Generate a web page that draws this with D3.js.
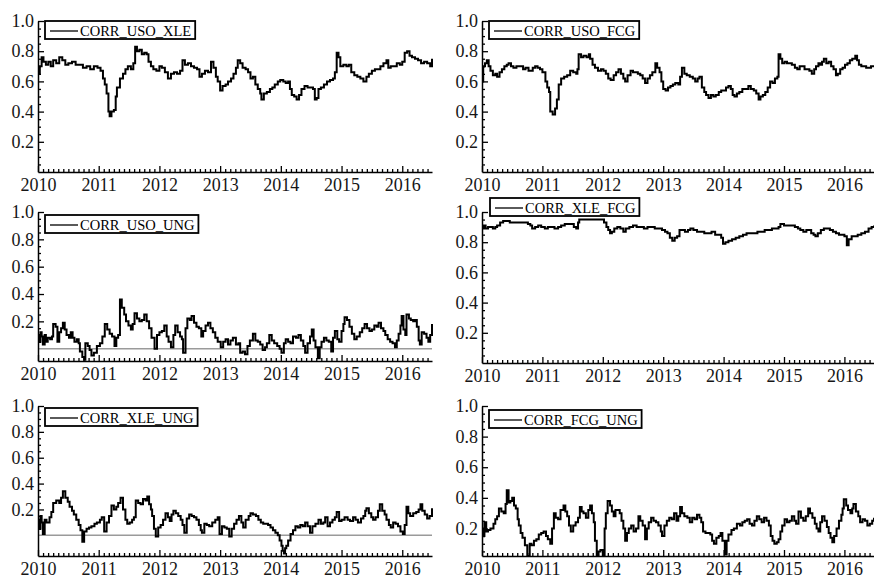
<!DOCTYPE html>
<html>
<head>
<meta charset="utf-8">
<script src="https://cdn.jsdelivr.net/npm/d3@7"></script>
<style>
  html, body { margin: 0; padding: 0; background: #fff; }
  svg { display: block; }
</style>
</head>
<body>
<svg id="chart" width="874" height="578"></svg>
<script>
// Rolling correlations, [decimal year, correlation]
const corrUsoXle = [
[2010.00,0.65],[2010.03,0.70],[2010.06,0.76],[2010.09,0.73],[2010.13,0.71],[2010.17,0.73],[2010.21,0.70],[2010.25,0.74],[2010.30,0.72],[2010.35,0.76],[2010.40,0.74],[2010.45,0.71],[2010.50,0.72],[2010.56,0.73],[2010.62,0.71],[2010.68,0.71],[2010.74,0.69],[2010.80,0.70],[2010.86,0.68],[2010.92,0.70],[2010.98,0.69],[2011.03,0.67],[2011.07,0.62],[2011.10,0.58],[2011.13,0.52],[2011.16,0.40],[2011.18,0.37],[2011.21,0.40],[2011.25,0.41],[2011.28,0.50],[2011.30,0.56],[2011.35,0.62],[2011.40,0.65],[2011.44,0.68],[2011.48,0.70],[2011.53,0.68],[2011.57,0.72],[2011.60,0.83],[2011.63,0.80],[2011.67,0.81],[2011.71,0.78],[2011.75,0.79],[2011.79,0.78],[2011.82,0.73],[2011.86,0.70],[2011.90,0.68],[2011.95,0.67],[2012.00,0.70],[2012.04,0.69],[2012.09,0.66],[2012.14,0.62],[2012.19,0.65],[2012.24,0.66],[2012.29,0.65],[2012.34,0.67],[2012.38,0.74],[2012.42,0.71],[2012.47,0.72],[2012.52,0.70],[2012.57,0.69],[2012.62,0.68],[2012.66,0.63],[2012.70,0.65],[2012.75,0.67],[2012.80,0.66],[2012.85,0.73],[2012.89,0.69],[2012.93,0.63],[2012.96,0.60],[2013.00,0.54],[2013.04,0.57],[2013.09,0.58],[2013.13,0.60],[2013.18,0.62],[2013.22,0.65],[2013.26,0.69],[2013.29,0.74],[2013.33,0.72],[2013.37,0.69],[2013.42,0.68],[2013.46,0.66],[2013.50,0.62],[2013.54,0.63],[2013.58,0.58],[2013.62,0.55],[2013.66,0.52],[2013.68,0.48],[2013.72,0.52],[2013.77,0.53],[2013.82,0.55],[2013.86,0.56],[2013.90,0.58],[2013.95,0.60],[2013.99,0.61],[2014.04,0.60],[2014.08,0.59],[2014.12,0.60],[2014.15,0.55],[2014.18,0.51],[2014.22,0.50],[2014.26,0.48],[2014.30,0.51],[2014.34,0.55],[2014.39,0.57],[2014.44,0.56],[2014.49,0.56],[2014.53,0.55],[2014.56,0.48],[2014.59,0.49],[2014.62,0.55],[2014.66,0.56],[2014.71,0.58],[2014.76,0.60],[2014.81,0.61],[2014.86,0.62],[2014.89,0.66],[2014.92,0.79],[2014.95,0.76],[2014.98,0.70],[2015.03,0.71],[2015.08,0.70],[2015.12,0.71],[2015.16,0.66],[2015.21,0.64],[2015.26,0.63],[2015.31,0.62],[2015.36,0.60],[2015.41,0.63],[2015.45,0.65],[2015.50,0.67],[2015.55,0.68],[2015.60,0.68],[2015.64,0.70],[2015.69,0.72],[2015.74,0.74],[2015.77,0.69],[2015.81,0.70],[2015.86,0.70],[2015.91,0.72],[2015.96,0.71],[2016.00,0.73],[2016.04,0.79],[2016.08,0.80],[2016.12,0.77],[2016.16,0.76],[2016.21,0.75],[2016.26,0.74],[2016.31,0.72],[2016.36,0.73],[2016.41,0.72],[2016.46,0.70],[2016.49,0.75]
];

const corrUsoFcg = [
[2010.00,0.60],[2010.02,0.70],[2010.05,0.72],[2010.08,0.74],[2010.11,0.70],[2010.14,0.67],[2010.18,0.64],[2010.22,0.65],[2010.25,0.63],[2010.29,0.66],[2010.33,0.68],[2010.37,0.70],[2010.41,0.71],[2010.44,0.72],[2010.48,0.70],[2010.52,0.69],[2010.57,0.70],[2010.63,0.70],[2010.68,0.68],[2010.72,0.69],[2010.77,0.67],[2010.80,0.67],[2010.84,0.69],[2010.88,0.70],[2010.92,0.69],[2010.96,0.68],[2011.00,0.66],[2011.05,0.60],[2011.08,0.56],[2011.11,0.53],[2011.13,0.40],[2011.17,0.38],[2011.21,0.42],[2011.24,0.48],[2011.27,0.58],[2011.31,0.62],[2011.36,0.63],[2011.41,0.64],[2011.46,0.67],[2011.51,0.66],[2011.56,0.65],[2011.58,0.68],[2011.60,0.78],[2011.64,0.76],[2011.68,0.77],[2011.73,0.76],[2011.77,0.78],[2011.79,0.75],[2011.83,0.71],[2011.87,0.69],[2011.92,0.67],[2011.97,0.68],[2012.01,0.67],[2012.05,0.65],[2012.09,0.62],[2012.13,0.61],[2012.18,0.64],[2012.22,0.66],[2012.26,0.68],[2012.30,0.65],[2012.34,0.62],[2012.37,0.60],[2012.41,0.64],[2012.46,0.67],[2012.50,0.66],[2012.54,0.66],[2012.58,0.65],[2012.62,0.64],[2012.66,0.62],[2012.70,0.59],[2012.74,0.62],[2012.78,0.64],[2012.82,0.66],[2012.87,0.72],[2012.90,0.69],[2012.94,0.66],[2012.97,0.60],[2013.00,0.55],[2013.04,0.54],[2013.08,0.56],[2013.12,0.57],[2013.16,0.58],[2013.20,0.59],[2013.25,0.58],[2013.28,0.63],[2013.31,0.69],[2013.35,0.65],[2013.39,0.64],[2013.44,0.63],[2013.49,0.62],[2013.53,0.60],[2013.57,0.62],[2013.60,0.63],[2013.64,0.56],[2013.68,0.53],[2013.71,0.51],[2013.75,0.49],[2013.79,0.51],[2013.83,0.50],[2013.87,0.51],[2013.92,0.53],[2013.96,0.54],[2014.00,0.54],[2014.04,0.56],[2014.08,0.57],[2014.12,0.55],[2014.15,0.51],[2014.18,0.50],[2014.22,0.52],[2014.26,0.53],[2014.31,0.55],[2014.36,0.55],[2014.41,0.57],[2014.45,0.55],[2014.50,0.54],[2014.54,0.52],[2014.58,0.48],[2014.61,0.50],[2014.65,0.51],[2014.69,0.53],[2014.73,0.56],[2014.77,0.60],[2014.81,0.59],[2014.85,0.62],[2014.89,0.63],[2014.91,0.78],[2014.94,0.75],[2014.97,0.72],[2015.01,0.73],[2015.05,0.72],[2015.09,0.72],[2015.13,0.71],[2015.18,0.69],[2015.22,0.68],[2015.26,0.70],[2015.30,0.70],[2015.34,0.68],[2015.38,0.68],[2015.42,0.67],[2015.46,0.65],[2015.50,0.68],[2015.53,0.70],[2015.57,0.72],[2015.60,0.71],[2015.63,0.73],[2015.66,0.75],[2015.70,0.72],[2015.74,0.73],[2015.78,0.70],[2015.82,0.68],[2015.86,0.64],[2015.89,0.65],[2015.93,0.68],[2015.97,0.69],[2016.01,0.71],[2016.05,0.72],[2016.09,0.74],[2016.13,0.75],[2016.18,0.77],[2016.21,0.74],[2016.24,0.71],[2016.28,0.70],[2016.32,0.70],[2016.36,0.69],[2016.40,0.69],[2016.44,0.70],[2016.49,0.70]
];

const corrUsoUng = [
[2010.00,0.10],[2010.02,0.05],[2010.04,0.12],[2010.06,0.09],[2010.08,0.03],[2010.11,0.10],[2010.13,0.05],[2010.16,0.08],[2010.20,0.07],[2010.23,0.09],[2010.25,0.18],[2010.29,0.16],[2010.32,0.05],[2010.35,0.12],[2010.38,0.15],[2010.41,0.19],[2010.44,0.14],[2010.47,0.10],[2010.51,0.08],[2010.54,0.12],[2010.57,0.08],[2010.60,0.05],[2010.64,0.07],[2010.67,0.04],[2010.69,-0.02],[2010.73,-0.06],[2010.76,-0.08],[2010.78,0.04],[2010.82,0.02],[2010.85,-0.01],[2010.88,-0.05],[2010.92,-0.03],[2010.97,0.02],[2011.02,0.04],[2011.06,0.09],[2011.10,0.18],[2011.14,0.14],[2011.18,0.11],[2011.22,0.09],[2011.26,0.02],[2011.29,0.08],[2011.32,0.10],[2011.35,0.36],[2011.38,0.30],[2011.42,0.25],[2011.45,0.20],[2011.49,0.17],[2011.53,0.14],[2011.56,0.18],[2011.59,0.26],[2011.63,0.22],[2011.67,0.20],[2011.71,0.21],[2011.75,0.25],[2011.79,0.20],[2011.83,0.15],[2011.87,0.08],[2011.92,0.00],[2011.96,0.10],[2012.00,0.12],[2012.04,0.13],[2012.08,0.17],[2012.12,0.09],[2012.15,0.05],[2012.19,0.01],[2012.23,0.10],[2012.26,0.17],[2012.30,0.12],[2012.34,0.09],[2012.37,0.07],[2012.39,-0.03],[2012.43,0.15],[2012.46,0.22],[2012.50,0.21],[2012.53,0.24],[2012.57,0.19],[2012.61,0.16],[2012.65,0.15],[2012.69,0.09],[2012.72,0.13],[2012.76,0.17],[2012.80,0.19],[2012.84,0.15],[2012.88,0.12],[2012.92,0.08],[2012.96,0.05],[2013.01,0.01],[2013.05,0.05],[2013.09,0.07],[2013.13,0.03],[2013.17,0.06],[2013.21,0.08],[2013.26,0.03],[2013.30,0.04],[2013.33,-0.03],[2013.37,-0.02],[2013.41,-0.04],[2013.45,0.02],[2013.49,0.06],[2013.54,0.11],[2013.58,0.06],[2013.62,0.05],[2013.66,0.03],[2013.70,-0.01],[2013.74,0.01],[2013.77,0.04],[2013.81,0.10],[2013.85,0.06],[2013.89,0.04],[2013.94,0.02],[2013.98,0.00],[2014.01,-0.03],[2014.05,0.04],[2014.08,0.07],[2014.12,0.05],[2014.16,0.04],[2014.20,0.09],[2014.25,0.08],[2014.29,0.10],[2014.33,0.06],[2014.37,0.02],[2014.40,-0.03],[2014.44,0.04],[2014.48,0.09],[2014.51,0.14],[2014.54,0.06],[2014.57,0.01],[2014.61,-0.07],[2014.64,0.01],[2014.67,0.05],[2014.71,0.08],[2014.75,0.06],[2014.79,0.05],[2014.83,-0.02],[2014.86,0.08],[2014.89,0.13],[2014.93,0.07],[2014.96,0.05],[2015.00,0.13],[2015.03,0.18],[2015.05,0.23],[2015.09,0.21],[2015.13,0.16],[2015.17,0.11],[2015.21,0.07],[2015.25,0.09],[2015.30,0.12],[2015.34,0.15],[2015.38,0.18],[2015.42,0.15],[2015.46,0.13],[2015.50,0.14],[2015.54,0.17],[2015.58,0.16],[2015.61,0.19],[2015.65,0.15],[2015.69,0.13],[2015.72,0.10],[2015.76,0.07],[2015.80,0.05],[2015.84,0.04],[2015.88,0.01],[2015.91,0.06],[2015.94,0.11],[2015.97,0.17],[2015.99,0.24],[2016.02,0.14],[2016.05,0.10],[2016.07,0.25],[2016.11,0.22],[2016.14,0.21],[2016.18,0.20],[2016.21,0.21],[2016.24,0.16],[2016.27,0.06],[2016.29,0.03],[2016.32,0.12],[2016.36,0.11],[2016.40,0.08],[2016.43,0.05],[2016.46,0.10],[2016.49,0.18]
];

const corrXleFcg = [
[2010.00,0.89],[2010.03,0.91],[2010.06,0.89],[2010.10,0.90],[2010.14,0.90],[2010.18,0.89],[2010.22,0.90],[2010.25,0.91],[2010.30,0.93],[2010.35,0.94],[2010.40,0.94],[2010.46,0.93],[2010.52,0.93],[2010.58,0.93],[2010.64,0.93],[2010.70,0.93],[2010.76,0.92],[2010.80,0.91],[2010.83,0.89],[2010.88,0.90],[2010.93,0.91],[2010.98,0.90],[2011.04,0.89],[2011.09,0.90],[2011.14,0.90],[2011.20,0.89],[2011.26,0.90],[2011.31,0.91],[2011.37,0.92],[2011.42,0.92],[2011.47,0.92],[2011.52,0.90],[2011.56,0.89],[2011.59,0.93],[2011.61,0.95],[2011.67,0.95],[2011.74,0.95],[2011.81,0.95],[2011.88,0.95],[2011.95,0.95],[2011.99,0.95],[2012.02,0.93],[2012.06,0.90],[2012.09,0.88],[2012.12,0.86],[2012.15,0.87],[2012.19,0.89],[2012.24,0.90],[2012.29,0.89],[2012.34,0.87],[2012.38,0.89],[2012.44,0.90],[2012.50,0.91],[2012.56,0.90],[2012.62,0.90],[2012.68,0.89],[2012.74,0.90],[2012.80,0.90],[2012.86,0.89],[2012.92,0.89],[2012.98,0.88],[2013.03,0.87],[2013.07,0.86],[2013.11,0.83],[2013.15,0.81],[2013.19,0.83],[2013.23,0.84],[2013.27,0.88],[2013.31,0.88],[2013.36,0.87],[2013.41,0.88],[2013.45,0.89],[2013.50,0.88],[2013.56,0.87],[2013.62,0.87],[2013.68,0.86],[2013.74,0.86],[2013.80,0.87],[2013.86,0.85],[2013.92,0.85],[2013.96,0.83],[2013.99,0.79],[2014.03,0.80],[2014.08,0.81],[2014.14,0.82],[2014.20,0.83],[2014.26,0.84],[2014.32,0.85],[2014.38,0.86],[2014.44,0.86],[2014.50,0.86],[2014.56,0.87],[2014.62,0.87],[2014.68,0.88],[2014.74,0.88],[2014.80,0.89],[2014.86,0.89],[2014.91,0.90],[2014.94,0.92],[2015.00,0.91],[2015.06,0.91],[2015.12,0.91],[2015.18,0.90],[2015.23,0.89],[2015.27,0.88],[2015.32,0.87],[2015.37,0.88],[2015.41,0.88],[2015.45,0.86],[2015.49,0.85],[2015.52,0.84],[2015.56,0.86],[2015.61,0.88],[2015.66,0.89],[2015.71,0.89],[2015.76,0.88],[2015.81,0.87],[2015.86,0.86],[2015.91,0.85],[2015.96,0.85],[2016.00,0.84],[2016.04,0.78],[2016.07,0.82],[2016.12,0.84],[2016.17,0.84],[2016.22,0.85],[2016.28,0.86],[2016.34,0.87],[2016.40,0.89],[2016.45,0.90],[2016.49,0.91]
];

const corrXleUng = [
[2010.00,0.12],[2010.02,0.05],[2010.04,0.15],[2010.06,0.10],[2010.08,0.01],[2010.11,0.12],[2010.14,0.10],[2010.19,0.14],[2010.22,0.18],[2010.25,0.25],[2010.30,0.27],[2010.35,0.25],[2010.38,0.29],[2010.41,0.34],[2010.45,0.29],[2010.49,0.26],[2010.52,0.22],[2010.56,0.19],[2010.59,0.16],[2010.63,0.12],[2010.67,0.08],[2010.70,0.04],[2010.73,-0.05],[2010.76,0.03],[2010.80,0.05],[2010.84,0.06],[2010.88,0.07],[2010.93,0.09],[2010.97,0.10],[2011.02,0.12],[2011.05,0.14],[2011.09,0.03],[2011.13,0.10],[2011.17,0.15],[2011.21,0.23],[2011.25,0.20],[2011.29,0.22],[2011.32,0.25],[2011.36,0.29],[2011.40,0.20],[2011.44,0.12],[2011.47,0.09],[2011.51,0.10],[2011.55,0.12],[2011.58,0.14],[2011.61,0.27],[2011.65,0.25],[2011.69,0.24],[2011.73,0.28],[2011.77,0.27],[2011.80,0.30],[2011.83,0.24],[2011.86,0.20],[2011.88,0.15],[2011.91,0.05],[2011.94,-0.01],[2011.98,0.06],[2012.02,0.08],[2012.06,0.12],[2012.10,0.17],[2012.14,0.14],[2012.17,0.11],[2012.20,0.16],[2012.23,0.19],[2012.27,0.17],[2012.31,0.15],[2012.35,0.12],[2012.38,0.08],[2012.41,0.02],[2012.45,0.13],[2012.49,0.16],[2012.53,0.15],[2012.57,0.14],[2012.61,0.12],[2012.65,0.08],[2012.68,0.04],[2012.70,0.02],[2012.74,0.09],[2012.78,0.08],[2012.82,0.07],[2012.87,0.10],[2012.92,0.12],[2012.96,0.14],[2012.99,0.01],[2013.03,0.07],[2013.07,0.06],[2013.11,0.05],[2013.15,-0.01],[2013.19,0.05],[2013.23,0.09],[2013.27,0.12],[2013.31,0.15],[2013.35,0.10],[2013.38,0.06],[2013.42,0.12],[2013.47,0.15],[2013.50,0.17],[2013.54,0.16],[2013.59,0.15],[2013.63,0.12],[2013.67,0.10],[2013.71,0.09],[2013.75,0.09],[2013.79,0.08],[2013.83,0.06],[2013.87,0.04],[2013.91,0.02],[2013.95,0.00],[2013.98,-0.04],[2014.01,-0.08],[2014.03,-0.12],[2014.05,-0.14],[2014.07,-0.10],[2014.09,-0.08],[2014.12,-0.04],[2014.16,0.01],[2014.20,0.04],[2014.24,0.07],[2014.28,0.06],[2014.32,0.08],[2014.36,0.07],[2014.40,0.10],[2014.44,0.07],[2014.48,0.02],[2014.52,0.07],[2014.57,0.09],[2014.62,0.12],[2014.66,0.09],[2014.70,0.10],[2014.73,0.14],[2014.77,0.07],[2014.81,0.10],[2014.85,0.12],[2014.89,0.14],[2014.92,0.18],[2014.96,0.11],[2015.00,0.12],[2015.05,0.14],[2015.10,0.12],[2015.14,0.11],[2015.19,0.14],[2015.23,0.12],[2015.27,0.10],[2015.32,0.13],[2015.36,0.15],[2015.39,0.19],[2015.41,0.21],[2015.45,0.17],[2015.49,0.14],[2015.52,0.12],[2015.56,0.14],[2015.60,0.19],[2015.63,0.24],[2015.67,0.19],[2015.71,0.16],[2015.74,0.12],[2015.78,0.08],[2015.81,0.06],[2015.85,0.10],[2015.89,0.09],[2015.93,0.07],[2015.97,0.03],[2016.01,0.01],[2016.04,0.08],[2016.07,0.22],[2016.10,0.17],[2016.13,0.15],[2016.18,0.17],[2016.23,0.18],[2016.27,0.20],[2016.30,0.24],[2016.33,0.19],[2016.37,0.16],[2016.41,0.13],[2016.45,0.15],[2016.49,0.21]
];

const corrFcgUng = [
[2010.00,0.20],[2010.02,0.15],[2010.04,0.24],[2010.07,0.18],[2010.10,0.19],[2010.14,0.20],[2010.19,0.23],[2010.22,0.26],[2010.25,0.28],[2010.28,0.33],[2010.32,0.31],[2010.36,0.30],[2010.39,0.36],[2010.41,0.45],[2010.44,0.37],[2010.47,0.38],[2010.50,0.40],[2010.53,0.35],[2010.56,0.33],[2010.59,0.26],[2010.61,0.22],[2010.64,0.17],[2010.67,0.14],[2010.71,0.09],[2010.75,0.02],[2010.79,0.10],[2010.82,0.09],[2010.86,0.12],[2010.90,0.13],[2010.94,0.16],[2010.98,0.17],[2011.02,0.18],[2011.06,0.15],[2011.09,0.13],[2011.13,0.10],[2011.16,0.20],[2011.19,0.30],[2011.22,0.27],[2011.26,0.26],[2011.30,0.32],[2011.35,0.35],[2011.38,0.31],[2011.41,0.28],[2011.44,0.22],[2011.47,0.18],[2011.51,0.22],[2011.55,0.24],[2011.59,0.27],[2011.62,0.34],[2011.65,0.31],[2011.68,0.30],[2011.72,0.27],[2011.76,0.32],[2011.79,0.35],[2011.82,0.30],[2011.85,0.24],[2011.87,0.12],[2011.90,0.02],[2011.93,0.05],[2011.96,0.06],[2012.00,0.02],[2012.03,0.20],[2012.05,0.30],[2012.08,0.38],[2012.12,0.35],[2012.15,0.31],[2012.18,0.28],[2012.21,0.32],[2012.24,0.32],[2012.28,0.30],[2012.31,0.25],[2012.34,0.20],[2012.37,0.12],[2012.40,0.17],[2012.43,0.20],[2012.47,0.22],[2012.51,0.18],[2012.55,0.20],[2012.59,0.28],[2012.62,0.25],[2012.66,0.22],[2012.70,0.13],[2012.73,0.20],[2012.76,0.24],[2012.80,0.27],[2012.84,0.25],[2012.88,0.24],[2012.92,0.22],[2012.96,0.18],[2012.98,0.15],[2013.02,0.22],[2013.06,0.25],[2013.10,0.27],[2013.14,0.26],[2013.18,0.30],[2013.22,0.25],[2013.25,0.28],[2013.28,0.34],[2013.31,0.30],[2013.35,0.28],[2013.40,0.27],[2013.44,0.24],[2013.48,0.27],[2013.52,0.26],[2013.56,0.29],[2013.60,0.27],[2013.63,0.24],[2013.66,0.18],[2013.70,0.17],[2013.74,0.17],[2013.78,0.16],[2013.81,0.12],[2013.84,0.10],[2013.88,0.14],[2013.92,0.15],[2013.95,0.17],[2013.98,0.12],[2014.02,0.03],[2014.05,0.12],[2014.08,0.16],[2014.13,0.19],[2014.17,0.20],[2014.22,0.23],[2014.27,0.22],[2014.31,0.24],[2014.35,0.25],[2014.39,0.26],[2014.43,0.23],[2014.47,0.22],[2014.51,0.25],[2014.55,0.28],[2014.59,0.26],[2014.63,0.24],[2014.67,0.27],[2014.71,0.25],[2014.75,0.22],[2014.78,0.15],[2014.81,0.12],[2014.84,0.10],[2014.88,0.11],[2014.91,0.13],[2014.94,0.18],[2014.97,0.22],[2015.01,0.26],[2015.05,0.24],[2015.09,0.25],[2015.13,0.28],[2015.17,0.25],[2015.20,0.23],[2015.24,0.31],[2015.28,0.27],[2015.32,0.25],[2015.36,0.28],[2015.40,0.33],[2015.43,0.30],[2015.47,0.27],[2015.51,0.23],[2015.54,0.20],[2015.57,0.18],[2015.60,0.24],[2015.63,0.28],[2015.67,0.25],[2015.71,0.21],[2015.74,0.17],[2015.77,0.14],[2015.80,0.11],[2015.83,0.15],[2015.87,0.20],[2015.91,0.25],[2015.95,0.29],[2015.97,0.33],[2015.99,0.39],[2016.03,0.35],[2016.06,0.32],[2016.10,0.30],[2016.13,0.33],[2016.15,0.36],[2016.19,0.31],[2016.23,0.28],[2016.26,0.24],[2016.30,0.26],[2016.34,0.25],[2016.38,0.22],[2016.42,0.23],[2016.46,0.25],[2016.49,0.27]
];

const seriesNames = ["CORR_USO_XLE", "CORR_USO_FCG", "CORR_USO_UNG", "CORR_XLE_FCG", "CORR_XLE_UNG", "CORR_FCG_UNG"];
const seriesData = [corrUsoXle, corrUsoFcg, corrUsoUng, corrXleFcg, corrXleUng, corrFcgUng];
const yearTicks = [2010, 2011, 2012, 2013, 2014, 2015, 2016];
const yTickValues = [0.2, 0.4, 0.6, 0.8, 1.0];
const yLowerBounds = [0, 0, -0.09, 0, -0.16, 0.02];
const timeSpan = [2010, 2016.49];

const SERIF = '"Liberation Serif", "DejaVu Serif", "Times New Roman", serif';

// Panel frames: left axis position, right end, top (value 1.0), bottom (lower bound), legend corner
const frames = [
  { x0: 38,  x1: 432, top: 21,  bottom: 172, lx: 45,  ly: 21 },
  { x0: 482, x1: 874, top: 21,  bottom: 172, lx: 489, ly: 21 },
  { x0: 38,  x1: 432, top: 212, bottom: 361, lx: 45,  ly: 215 },
  { x0: 482, x1: 874, top: 212, bottom: 363, lx: 490, ly: 198 },
  { x0: 38,  x1: 432, top: 406, bottom: 556, lx: 45,  ly: 408 },
  { x0: 482, x1: 874, top: 406, bottom: 556, lx: 489, ly: 410 }
];

const svg = d3.select("#chart");

const monthTicks = d3.range(1, 79).map(k => 2010 + k / 12)
  .filter(t => Math.abs(t - Math.round(t)) > 1e-6 && t <= timeSpan[1]);

seriesNames.forEach((name, i) => {
  const f = frames[i];
  const data = seriesData[i];
  const lo = yLowerBounds[i];

  const x = d3.scaleLinear().domain(timeSpan).range([f.x0, f.x1]);
  const y = d3.scaleLinear().domain([lo, 1.0]).range([f.bottom, f.top]);

  const g = svg.append("g");

  // zero reference line when the range dips below zero
  if (lo < 0) {
    g.append("line")
      .attr("x1", f.x0).attr("x2", f.x1)
      .attr("y1", y(0)).attr("y2", y(0))
      .attr("stroke", "#9a9a9a").attr("stroke-width", 1.6);
  }

  // the correlation path
  const line = d3.line().x(d => x(d[0])).y(d => y(d[1])).curve(d3.curveStepAfter);
  g.append("path")
    .datum(data)
    .attr("d", line)
    .attr("fill", "none")
    .attr("stroke", "#000")
    .attr("stroke-width", 2);

  // x axis: monthly minor ticks, yearly labelled ticks, all pointing inward
  const xMinor = g.append("g").attr("transform", `translate(0,${f.bottom})`)
    .call(d3.axisBottom(x).tickValues(monthTicks).tickSize(-3).tickSizeOuter(0).tickFormat(""));
  xMinor.select(".domain").remove();
  const xMajor = g.append("g").attr("transform", `translate(0,${f.bottom})`)
    .call(d3.axisBottom(x).tickValues(yearTicks).tickSize(-6).tickSizeOuter(0).tickPadding(6).tickFormat(d3.format("d")));

  // y axis: 0.05 minor ticks, labelled 0.2 steps
  const yMinorVals = d3.range(0, 21).map(k => +(k * 0.05).toFixed(2))
    .filter(v => v > 0 && v >= lo && Math.abs(v * 5 - Math.round(v * 5)) > 1e-6);
  const yMinor = g.append("g").attr("transform", `translate(${f.x0},0)`)
    .call(d3.axisLeft(y).tickValues(yMinorVals).tickSize(-3).tickSizeOuter(0).tickFormat(""));
  yMinor.select(".domain").remove();
  const yMajor = g.append("g").attr("transform", `translate(${f.x0},0)`)
    .call(d3.axisLeft(y).tickValues(yTickValues).tickSize(-6).tickSizeOuter(0).tickPadding(4).tickFormat(d3.format(".1f")));

  [xMinor, xMajor, yMinor, yMajor].forEach(a => {
    a.attr("font-family", SERIF).attr("font-size", 18);
    a.selectAll("line").attr("stroke", "#000").attr("stroke-width", 1.3);
    a.selectAll(".domain").attr("stroke", "#000").attr("stroke-width", 1.5);
    a.selectAll("text").style("font-family", SERIF).style("font-size", "18px").attr("fill", "#161616");
  });

  // legend
  const lg = g.append("g");
  const box = lg.append("rect")
    .attr("x", f.lx).attr("y", f.ly).attr("height", 18)
    .attr("fill", "#fff").attr("stroke", "#000").attr("stroke-width", 1.8);
  lg.append("line")
    .attr("x1", f.lx + 5).attr("x2", f.lx + 33)
    .attr("y1", f.ly + 10).attr("y2", f.ly + 10)
    .attr("stroke", "#000").attr("stroke-width", 1.3);
  const txt = lg.append("text")
    .attr("x", f.lx + 35).attr("y", f.ly + 14.5)
    .style("font-family", SERIF).style("font-size", "14.5px")
    .attr("fill", "#000")
    .text(name);
  const w = txt.node().getComputedTextLength();
  box.attr("width", 35 + w + 4);
});
</script>
</body>
</html>
